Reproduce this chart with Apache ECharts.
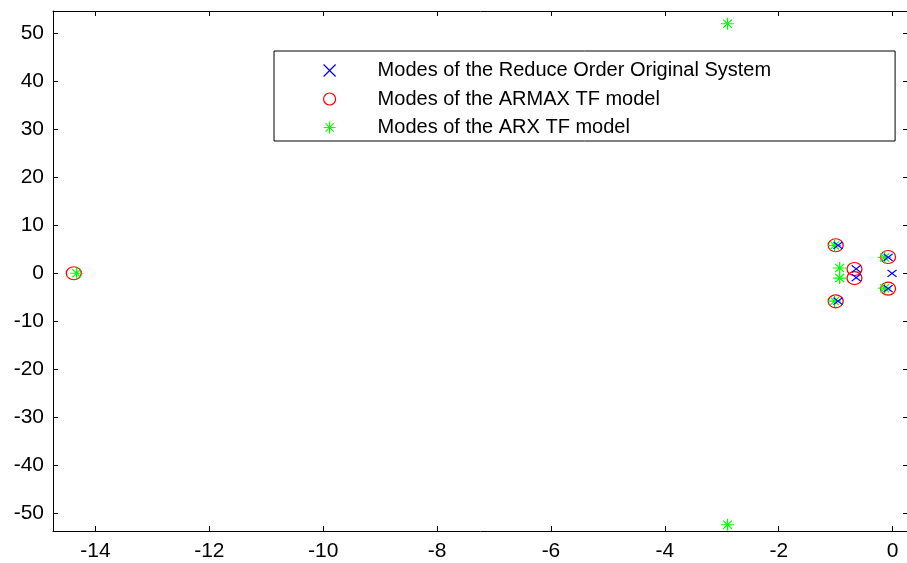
<!DOCTYPE html>
<html>
<head>
<meta charset="utf-8">
<script src="https://cdn.jsdelivr.net/npm/echarts@6/dist/echarts.min.js"></script>
<style>
  html, body { margin: 0; padding: 0; background: #fff; }
  #chart { width: 907px; height: 563px; }
</style>
</head>
<body>
<div id="chart"></div>
<script>
// Pole locations [real, imaginary]
const originalModes = [
  [-0.96, 5.8], [-0.96, -5.8],
  [-0.64, 0.9], [-0.64, -0.9],
  [-0.08, 3.3], [-0.08, -3.2],
  [-0.01, 0]
];
const armaxModes = [
  [-14.38, 0],
  [-1.0, 5.85], [-1.0, -5.85],
  [-0.67, 0.9], [-0.67, -1.0],
  [-0.08, 3.4], [-0.08, -3.2]
];
const arxModes = [
  [-14.33, 0],
  [-1.02, 5.8], [-1.02, -5.8],
  [-0.93, 1.1], [-0.93, -1.0],
  [-0.14, 3.3], [-0.14, -3.1],
  [-2.9, 52.0], [-2.9, -52.4]
];

const seriesNames = [
  'Modes of the Reduce Order Original System',
  'Modes of the ARMAX TF model',
  'Modes of the ARX TF model'
];

const xTicks = [-14, -12, -10, -8, -6, -4, -2, 0];
const yTicks = [-50, -40, -30, -20, -10, 0, 10, 20, 30, 40, 50];
const xRange = [-14.745, 0.27];
const yRange = [-53.7, 54.65];

const X_MARK = 'path://M0,0L10,10M0,10L10,0';
const ASTERISK = 'path://M5,0L5,10M0,5L10,5M1.6,1.6L8.4,8.4M8.4,1.6L1.6,8.4';
const FONT = '"Liberation Sans", Arial, sans-serif';

const chart = echarts.init(document.getElementById('chart'), null, { renderer: 'canvas' });

// One side of the boxed frame: bottom/left carry labels, top/right only inward ticks
function frameAxis(position, range, ticks, showLabels) {
  return {
    type: 'value',
    position: position,
    min: range[0],
    max: range[1],
    splitLine: { show: false },
    axisLine: { show: true, onZero: false, lineStyle: { color: '#000', width: 1 } },
    axisTick: { show: true, inside: true, length: 5, customValues: ticks, lineStyle: { color: '#000', width: 1 } },
    axisLabel: {
      show: showLabels,
      customValues: ticks,
      color: '#000',
      fontSize: 21,
      fontFamily: FONT,
      margin: position === 'left' ? 9 : 10
    }
  };
}

chart.setOption({
  backgroundColor: '#fff',
  animation: false,
  grid: {
    left: 53, right: -1, top: 11, bottom: 32,
    containLabel: false,
    outerBoundsMode: 'none'
  },
  xAxis: [
    frameAxis('bottom', xRange, xTicks, true),
    frameAxis('top', xRange, xTicks, false)
  ],
  yAxis: [
    frameAxis('left', yRange, yTicks, true),
    frameAxis('right', yRange, yTicks, false)
  ],
  legend: {
    orient: 'vertical',
    left: 274,
    top: 51,
    padding: [9, 124, 3, 49],
    itemWidth: 16,
    itemHeight: 12,
    itemGap: 7.5,
    borderColor: '#000',
    borderWidth: 1,
    borderRadius: 0,
    backgroundColor: '#fff',
    itemStyle: { borderWidth: 1.2 },
    textStyle: {
      color: '#000',
      fontSize: 20,
      lineHeight: 21,
      fontFamily: FONT,
      padding: [0, 0, 0, 35]
    },
    data: seriesNames
  },
  series: [
    {
      name: seriesNames[0],
      type: 'scatter',
      data: originalModes,
      symbol: X_MARK,
      symbolSize: [9, 7],
      z: 3,
      itemStyle: { color: 'rgba(0,0,0,0)', borderColor: '#0000ff', borderWidth: 1.2, opacity: 1 }
    },
    {
      name: seriesNames[1],
      type: 'scatter',
      data: armaxModes,
      symbol: 'circle',
      symbolSize: [15, 13],
      z: 2,
      itemStyle: { color: 'rgba(0,0,0,0)', borderColor: '#ff0000', borderWidth: 1.2, opacity: 1 }
    },
    {
      name: seriesNames[2],
      type: 'scatter',
      data: arxModes,
      symbol: ASTERISK,
      symbolSize: [13, 12],
      z: 2,
      itemStyle: { color: 'rgba(0,0,0,0)', borderColor: '#00ff00', borderWidth: 1.2, opacity: 1 }
    }
  ]
});
</script>
</body>
</html>
